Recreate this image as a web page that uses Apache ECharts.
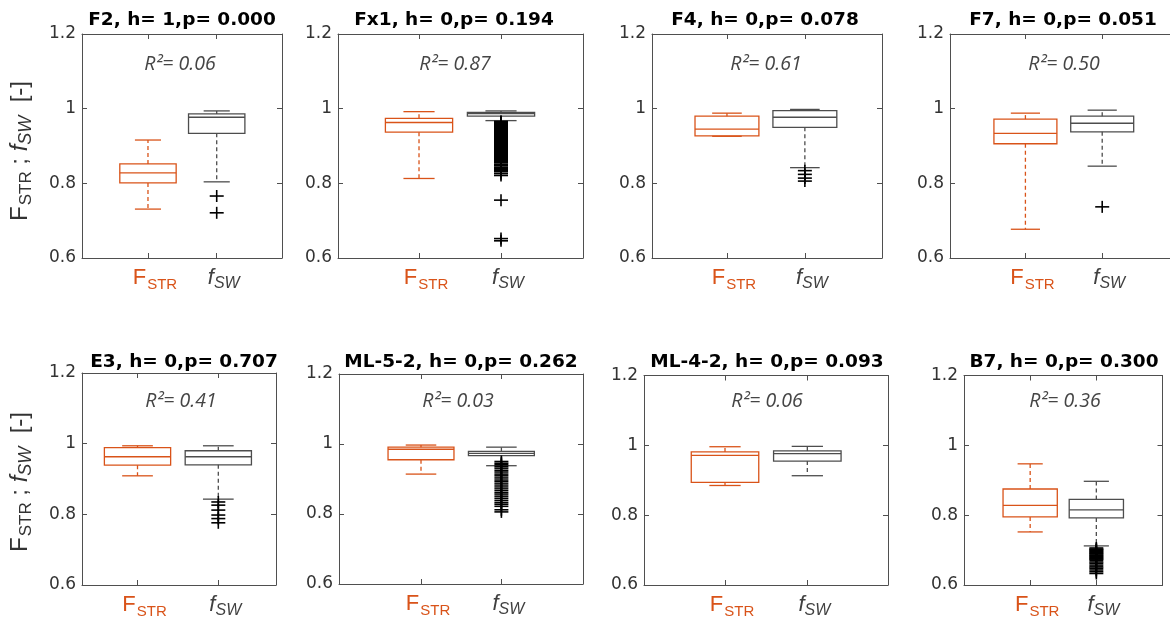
<!DOCTYPE html>
<html>
<head>
<meta charset="utf-8">
<script src="https://cdn.jsdelivr.net/npm/echarts@6/dist/echarts.min.js"></script>
<style>
html,body{margin:0;padding:0;background:#fff;}
#c{width:1170px;height:622px;}
</style>
</head>
<body>
<div id="c"></div>
<script>
// ---------------- DATA ----------------
const panelNames = ['F2', 'Fx1', 'F4', 'F7', 'E3', 'ML-5-2', 'ML-4-2', 'B7'];
const hValues = [1, 0, 0, 0, 0, 0, 0, 0];
const pValues = ['0.000', '0.194', '0.078', '0.051', '0.707', '0.262', '0.093', '0.300'];
const r2Values = ['0.06', '0.87', '0.61', '0.50', '0.41', '0.03', '0.06', '0.36'];
const categories = ['F_STR', 'f_SW'];
const yTicks = [0.6, 0.8, 1, 1.2];
const yTickLabels = ['0.6', '0.8', '1', '1.2'];

// box statistics: [lower whisker, Q1, median, Q3, upper whisker]
const fstrStats = [
  [0.731, 0.801, 0.828, 0.852, 0.916],
  [0.813, 0.937, 0.963, 0.974, 0.992],
  [0.926, 0.927, 0.945, 0.980, 0.988],
  [0.677, 0.906, 0.934, 0.972, 0.988],
  [0.909, 0.939, 0.963, 0.989, 0.994],
  [0.914, 0.955, 0.985, 0.991, 0.997],
  [0.885, 0.894, 0.971, 0.981, 0.996],
  [0.752, 0.795, 0.828, 0.875, 0.947]
];
const fswStats = [
  [0.804, 0.934, 0.977, 0.986, 0.994],
  [0.968, 0.980, 0.987, 0.990, 0.994],
  [0.842, 0.950, 0.977, 0.995, 0.998],
  [0.846, 0.938, 0.961, 0.980, 0.996],
  [0.843, 0.940, 0.963, 0.980, 0.994],
  [0.938, 0.967, 0.973, 0.979, 0.991],
  [0.913, 0.955, 0.976, 0.984, 0.997],
  [0.712, 0.792, 0.815, 0.845, 0.897]
];
const outliersF2 = [0.766, 0.721];
const outliersFx1 = [0.966, 0.964, 0.963, 0.961, 0.959, 0.958, 0.956, 0.954, 0.952, 0.951, 0.949,
  0.947, 0.945, 0.944, 0.942, 0.940, 0.938, 0.937, 0.935, 0.933, 0.931, 0.930, 0.928, 0.926,
  0.924, 0.922, 0.921, 0.919, 0.917, 0.915, 0.913, 0.912, 0.910, 0.908, 0.906, 0.904, 0.903,
  0.901, 0.899, 0.897, 0.895, 0.894, 0.892, 0.890, 0.888, 0.886, 0.885, 0.883, 0.881, 0.879,
  0.877, 0.876, 0.874, 0.872, 0.869, 0.866, 0.864, 0.861, 0.858, 0.855, 0.851, 0.847, 0.843,
  0.841, 0.839, 0.837, 0.835, 0.831, 0.826, 0.821, 0.755, 0.652, 0.646];
const outliersF4 = [0.834, 0.824, 0.814, 0.806];
const outliersF7 = [0.737];
const outliersE3 = [0.835, 0.826, 0.812, 0.798, 0.788, 0.776];
const outliersML52 = [0.950, 0.945, 0.941, 0.936, 0.931, 0.925, 0.920, 0.914, 0.909, 0.903, 0.897,
  0.892, 0.886, 0.880, 0.874, 0.868, 0.862, 0.857, 0.851, 0.845, 0.839, 0.833, 0.828, 0.822,
  0.812, 0.806];
const outliersML42 = [];
const outliersB7 = [0.706, 0.703, 0.701, 0.699, 0.696, 0.694, 0.691, 0.689, 0.686, 0.684, 0.681,
  0.679, 0.676, 0.674, 0.671, 0.666, 0.662, 0.657, 0.652, 0.648, 0.643, 0.638, 0.633];
const fswOutliers = [outliersF2, outliersFx1, outliersF4, outliersF7, outliersE3, outliersML52, outliersML42, outliersB7];

// ---------------- LAYOUT / STYLE ----------------
const layout = [
  {left: 82,  top: 34,    width: 200,   height: 224,   xmin: 0.04,  xmax: 2.95,  tx: 182,  rx: 180},
  {left: 338, top: 34,    width: 245,   height: 224,   xmin: 0.012, xmax: 3.0,   tx: 454,  rx: 455},
  {left: 652, top: 34,    width: 230,   height: 224,   xmin: 0.038, xmax: 2.99,  tx: 765,  rx: 766},
  {left: 950, top: 34,    width: 229,   height: 224,   xmin: 0.018, xmax: 3.0,   tx: 1063, rx: 1064},
  {left: 82,  top: 373,   width: 194,   height: 212,   xmin: 0.313, xmax: 2.714, tx: 184,  rx: 181},
  {left: 339, top: 374,   width: 244,   height: 210,   xmin: -0.02, xmax: 3.015, tx: 461,  rx: 458},
  {left: 644, top: 375.5, width: 244,   height: 209.5, xmin: 0.016, xmax: 2.98,  tx: 767,  rx: 767},
  {left: 964, top: 375.5, width: 198.5, height: 209.5, xmin: 0,     xmax: 3.0,   tx: 1064, rx: 1065}
];
const titleY = [20.5, 362.5];
const r2Y = [64, 401.5];
const yNameY = [151, 482];
const groupColors = ['#D95319', '#4d4d4d'];
const frameColor = '#4f4f4f';
const BOX_HALF = 0.41;
const CAP_HALF = 0.19;

function boxRender(params, api) {
  const x = api.value(0), lo = api.value(1), q1 = api.value(2), md = api.value(3), q3 = api.value(4), hi = api.value(5);
  const col = groupColors[params.dataIndex];
  const a = api.coord([x - BOX_HALF, q3]);
  const b = api.coord([x + BOX_HALF, q1]);
  const m1 = api.coord([x - BOX_HALF, md]);
  const m2 = api.coord([x + BOX_HALF, md]);
  const pHi = api.coord([x, hi]);
  const pLo = api.coord([x, lo]);
  const pQ3 = api.coord([x, q3]);
  const pQ1 = api.coord([x, q1]);
  const cHl = api.coord([x - CAP_HALF, hi]);
  const cHr = api.coord([x + CAP_HALF, hi]);
  const cLl = api.coord([x - CAP_HALF, lo]);
  const cLr = api.coord([x + CAP_HALF, lo]);
  const lw = 1.3;
  return {
    type: 'group',
    children: [
      {type: 'line', shape: {x1: pQ3[0], y1: pQ3[1], x2: pHi[0], y2: pHi[1]}, style: {stroke: col, lineWidth: lw, lineDash: [4, 3]}},
      {type: 'line', shape: {x1: pQ1[0], y1: pQ1[1], x2: pLo[0], y2: pLo[1]}, style: {stroke: col, lineWidth: lw, lineDash: [4, 3]}},
      {type: 'line', shape: {x1: cHl[0], y1: cHl[1], x2: cHr[0], y2: cHr[1]}, style: {stroke: col, lineWidth: lw}},
      {type: 'line', shape: {x1: cLl[0], y1: cLl[1], x2: cLr[0], y2: cLr[1]}, style: {stroke: col, lineWidth: lw}},
      {type: 'rect', shape: {x: a[0], y: a[1], width: b[0] - a[0], height: b[1] - a[1]}, style: {fill: 'none', stroke: col, lineWidth: lw}},
      {type: 'line', shape: {x1: m1[0], y1: m1[1], x2: m2[0], y2: m2[1]}, style: {stroke: col, lineWidth: lw}}
    ]
  };
}

function plusRender(params, api) {
  const p = api.coord([api.value(0), api.value(1)]);
  return {
    type: 'group',
    children: [
      {type: 'line', shape: {x1: p[0] - 7, y1: p[1], x2: p[0] + 7, y2: p[1]}, style: {stroke: '#000', lineWidth: 1.6}},
      {type: 'line', shape: {x1: p[0], y1: p[1] - 6, x2: p[0], y2: p[1] + 6}, style: {stroke: '#000', lineWidth: 1.6}}
    ]
  };
}

const catParts = categories.map(c => c.split('_'));
const xLabelRich = {
  F: {fontFamily: 'Liberation Sans', fontSize: 22, color: groupColors[0], lineHeight: 24, verticalAlign: 'top'},
  Fs: {fontFamily: 'Liberation Sans', fontSize: 15, color: groupColors[0], lineHeight: 15, verticalAlign: 'top', padding: [10, 0, 0, 1]},
  f: {fontFamily: 'Liberation Sans', fontStyle: 'italic', fontSize: 22, color: '#404040', lineHeight: 24, verticalAlign: 'top'},
  fs: {fontFamily: 'Liberation Sans', fontStyle: 'italic', fontSize: 16, color: '#404040', lineHeight: 16, verticalAlign: 'top', padding: [9, 0, 0, 0]}
};

const grids = [], xAxes = [], yAxes = [], series = [], graphics = [];
layout.forEach((L, i) => {
  grids.push({left: L.left, top: L.top, width: L.width, height: L.height, containLabel: false, outerBoundsMode: 'none'});
  const axLine = {show: true, onZero: false, lineStyle: {color: frameColor, width: 1}};
  const tick = {show: true, inside: true, length: 5, lineStyle: {color: frameColor, width: 1}};
  xAxes.push({
    gridIndex: i, type: 'value', position: 'bottom', min: L.xmin, max: L.xmax,
    axisLine: axLine, splitLine: {show: false},
    axisTick: Object.assign({customValues: [1, 2]}, tick),
    axisLabel: {
      customValues: [1, 2], margin: 9, padding: [0, 0, 0, 14],
      formatter: v => {
        const k = Math.round(v) - 1;
        const pr = catParts[k];
        return k === 0 ? '{F|' + pr[0] + '}{Fs|' + pr[1] + '}' : '{f|' + pr[0] + '}{fs|' + pr[1] + '}';
      },
      rich: xLabelRich
    }
  });
  xAxes.push({
    gridIndex: i, type: 'value', position: 'top', min: L.xmin, max: L.xmax,
    axisLine: axLine, splitLine: {show: false},
    axisTick: Object.assign({customValues: [1, 2]}, tick),
    axisLabel: {show: false}
  });
  yAxes.push({
    gridIndex: i, type: 'value', position: 'left', min: 0.6, max: 1.2,
    axisLine: axLine, splitLine: {show: false},
    axisTick: Object.assign({customValues: yTicks}, tick),
    axisLabel: {
      customValues: yTicks, margin: 6,
      fontFamily: 'DejaVu Sans', fontSize: 17, color: '#333',
      formatter: v => yTickLabels[yTicks.findIndex(t => Math.abs(t - v) < 1e-6)]
    }
  });
  yAxes.push({
    gridIndex: i, type: 'value', position: 'right', min: 0.6, max: 1.2,
    axisLine: axLine, splitLine: {show: false},
    axisTick: Object.assign({customValues: yTicks}, tick),
    axisLabel: {show: false}
  });
  series.push({
    type: 'custom', xAxisIndex: 2 * i, yAxisIndex: 2 * i, renderItem: boxRender,
    data: [[1].concat(fstrStats[i]), [2].concat(fswStats[i])], z: 3
  });
  series.push({
    type: 'custom', xAxisIndex: 2 * i, yAxisIndex: 2 * i, renderItem: plusRender,
    data: fswOutliers[i].map(v => [2, v]), z: 4
  });
  const row = i < 4 ? 0 : 1;
  graphics.push({
    type: 'text', x: L.tx, y: titleY[row], z: 10,
    style: {
      text: panelNames[i] + ', h= ' + hValues[i] + ',p= ' + pValues[i],
      fontFamily: 'DejaVu Sans', fontWeight: 'bold', fontSize: 18.5, fill: '#000',
      align: 'center', verticalAlign: 'middle'
    }
  });
  graphics.push({
    type: 'text', x: L.rx, y: r2Y[row], z: 10,
    style: {
      text: 'R²= ' + r2Values[i],
      fontFamily: 'Open Sans', fontStyle: 'italic', fontSize: 19.5, fill: '#454545',
      align: 'center', verticalAlign: 'middle'
    }
  });
});

[0, 1].forEach(row => {
  graphics.push({
    type: 'text', x: 21, y: yNameY[row], rotation: Math.PI / 2, z: 10,
    style: {
      text: '{F|F}{s|STR}{n| ; }{f|f}{si|SW}{n|  [-]}',
      align: 'center', verticalAlign: 'middle',
      rich: {
        F: {fontFamily: 'Liberation Sans', fontSize: 24, fill: '#333', lineHeight: 26, verticalAlign: 'top'},
        s: {fontFamily: 'Liberation Sans', fontSize: 17, fill: '#333', lineHeight: 17, verticalAlign: 'top', padding: [10, 0, 0, 1]},
        n: {fontFamily: 'Liberation Sans', fontSize: 24, fill: '#333', lineHeight: 26, verticalAlign: 'top'},
        f: {fontFamily: 'Liberation Sans', fontStyle: 'italic', fontSize: 24, fill: '#333', lineHeight: 26, verticalAlign: 'top'},
        si: {fontFamily: 'Liberation Sans', fontStyle: 'italic', fontSize: 18, fill: '#333', lineHeight: 18, verticalAlign: 'top', padding: [9, 0, 0, 0]}
      }
    }
  });
});

const chart = echarts.init(document.getElementById('c'), null, {renderer: 'canvas'});
chart.setOption({
  backgroundColor: '#fff',
  animation: false,
  grid: grids,
  xAxis: xAxes,
  yAxis: yAxes,
  series: series,
  graphic: graphics
});
</script>
</body>
</html>
